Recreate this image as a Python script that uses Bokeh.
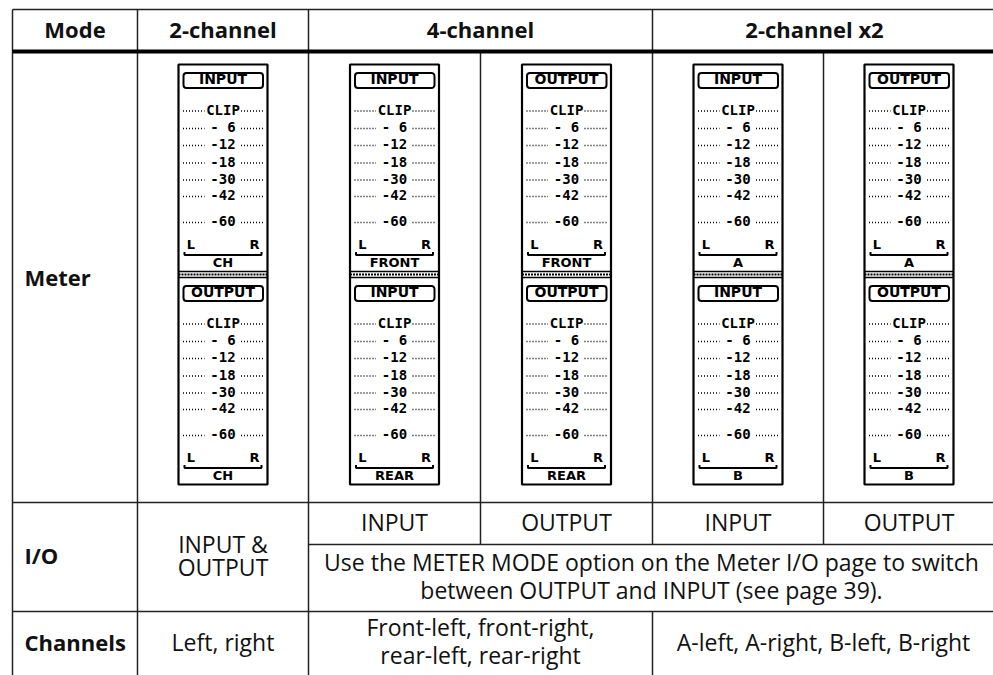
from bokeh.plotting import figure
from bokeh.models import Range1d
from bokeh.core.properties import value
from bokeh.embed import file_html
from bokeh.resources import INLINE

# ---------------- data ----------------
header_labels = ["Mode", "2-channel", "4-channel", "2-channel x2"]
row_labels = ["Meter", "I/O", "Channels"]
meter_scale_labels = ["CLIP", "- 6", "-12", "-18", "-30", "-42", "-60"]
meter_upper_titles = ["INPUT", "INPUT", "OUTPUT", "INPUT", "OUTPUT"]
meter_upper_groups = ["CH", "FRONT", "FRONT", "A", "A"]
meter_lower_titles = ["OUTPUT", "INPUT", "OUTPUT", "INPUT", "OUTPUT"]
meter_lower_groups = ["CH", "REAR", "REAR", "B", "B"]
meter_lr_labels = ["L", "R"]
io_two_channel = ["INPUT &", "OUTPUT"]
io_sub_labels = ["INPUT", "OUTPUT", "INPUT", "OUTPUT"]
io_note = ["Use the METER MODE option on the Meter I/O page to switch",
           "between OUTPUT and INPUT (see page 39)."]
channels_two = ["Left, right"]
channels_four = ["Front-left, front-right,", "rear-left, rear-right"]
channels_x2 = ["A-left, A-right, B-left, B-right"]

# ---------------- layout ----------------
col_edges = [12, 137, 308, 480, 652, 823, 994]
y_top, y_head, y_meter, y_split, y_io, y_bot = 9, 51, 502, 544, 611, 675
meter_w = 89
section_tops = [64, 277]
section_h = 207
scale_offsets = [46.5, 64, 81, 98.5, 115.5, 132, 158]

W, H = 993, 675
p = figure(width=W, height=H, x_range=Range1d(0, W), y_range=Range1d(H, 0),
           output_backend="svg", toolbar_location=None, min_border=0)
p.axis.visible = False
p.grid.visible = False
p.outline_line_color = None
p.background_fill_color = "white"
p.border_fill_color = "white"

INK = "#111111"
LINE = "#222222"

# ---------------- table lines ----------------
x0s, y0s, x1s, y1s = [], [], [], []
def seg(a, b, c, d):
    x0s.append(a); y0s.append(b); x1s.append(c); y1s.append(d)

for x in (col_edges[0], col_edges[1], col_edges[2], col_edges[6]):
    seg(x, y_top, x, y_bot)
seg(col_edges[4], y_top, col_edges[4], y_split)
seg(col_edges[4], y_io, col_edges[4], y_bot)
seg(col_edges[3], y_head, col_edges[3], y_split)
seg(col_edges[5], y_head, col_edges[5], y_split)
seg(col_edges[0], y_top, col_edges[6], y_top)
seg(col_edges[0], y_meter, col_edges[6], y_meter)
seg(col_edges[2], y_split, col_edges[6], y_split)
seg(col_edges[0], y_io, col_edges[6], y_io)
p.segment(x0=x0s, y0=y0s, x1=x1s, y1=y1s, line_color=LINE, line_width=1.5)
p.segment(x0=[col_edges[0]], y0=[y_head], x1=[col_edges[6]], y1=[y_head],
          line_color="black", line_width=4)

# ---------------- text helper (y = visual centre of capitals) ----------------
def text(xs, ys, txt, size, bold=False, align="center", font="Open Sans", color=INK):
    adj = [y - 0.09 * size for y in ys]
    p.text(x=xs, y=adj, text=txt, text_font=value(font), text_font_size=f"{size}px",
           text_font_style="bold" if bold else "normal", text_align=align,
           text_baseline="alphabetic", text_color=color)

hx = [(col_edges[0] + col_edges[1]) / 2, (col_edges[1] + col_edges[2]) / 2,
      (col_edges[2] + col_edges[4]) / 2, (col_edges[4] + col_edges[6]) / 2 - 9]
text(hx, [30] * 4, header_labels, 22, bold=True)

row_label_y = [(y_head + y_meter) / 2 + 2, (y_meter + y_io) / 2, (y_io + y_bot) / 2]
text([24] * 3, row_label_y, row_labels, 22, bold=True, align="left")

c2 = (col_edges[1] + col_edges[2]) / 2
io_mid = (y_meter + y_io) / 2
text([c2, c2], [io_mid - 10.5, io_mid + 12], io_two_channel, 23)

sub_cx = [(col_edges[i] + col_edges[i + 1]) / 2 for i in range(2, 6)]
text(sub_cx, [(y_meter + y_split) / 2 + 0.5] * 4, io_sub_labels, 23)

note_cx = (col_edges[2] + col_edges[6]) / 2
note_mid = (y_split + y_io) / 2
text([note_cx, note_cx], [note_mid - 14, note_mid + 14], io_note, 23)

ch_mid = 643
text([c2], [ch_mid + 1], channels_two, 23)
c4 = (col_edges[2] + col_edges[4]) / 2
text([c4, c4], [ch_mid - 14, ch_mid + 14], channels_four, 23)
cx2 = (col_edges[4] + col_edges[6]) / 2
text([cx2], [ch_mid + 1], channels_x2, 23)

# ---------------- meters ----------------
meter_cx = [(col_edges[i] + col_edges[i + 1]) / 2 for i in range(1, 6)]

frame_l, frame_r, frame_t, frame_b = [], [], [], []
lab_l, lab_r, lab_t, lab_b = [], [], [], []
title_x, title_y, title_t = [], [], []
group_x, group_y, group_t = [], [], []
scale_x, scale_y, scale_t = [], [], []
lr_x, lr_y, lr_t = [], [], []
dot_xs, dot_ys = [], []
brk_xs, brk_ys = [], []
sep_xs, sep_ys = [], []
band_xs, band_ys = [], []

for i, cx in enumerate(meter_cx):
    bl = cx - meter_w / 2
    br = cx + meter_w / 2
    frame_l.append(bl); frame_r.append(br)
    frame_t.append(section_tops[0]); frame_b.append(section_tops[1] + section_h)
    sep_xs += [[bl, br], [bl, br]]
    sep_ys += [[section_tops[0] + section_h, section_tops[0] + section_h],
               [section_tops[1], section_tops[1]]]
    band_xs.append([bl, br]); band_ys.append([274, 274])
    titles = [meter_upper_titles[i], meter_lower_titles[i]]
    groups = [meter_upper_groups[i], meter_lower_groups[i]]
    for s, T in enumerate(section_tops):
        lab_l.append(bl + 5); lab_r.append(br - 4.5)
        lab_t.append(T + 8.5); lab_b.append(T + 23.5)
        title_x.append(cx); title_y.append(T + 16); title_t.append(titles[s])
        for k, off in enumerate(scale_offsets):
            scale_x.append(cx); scale_y.append(T + off); scale_t.append(meter_scale_labels[k])
            dot_xs += [[bl + 4.5, bl + 26], [bl + 62.5, bl + 85]]
            dot_ys += [[T + off, T + off], [T + off, T + off]]
        lr_x += [bl + 12.5, bl + 76]; lr_y += [T + 181] * 2; lr_t += meter_lr_labels
        brk_xs.append([bl + 6, bl + 6, br - 6, br - 6])
        brk_ys.append([T + 187.5, T + 190.5, T + 190.5, T + 187.5])
        group_x.append(cx); group_y.append(T + 199.5); group_t.append(groups[s])

p.quad(left=frame_l, right=frame_r, top=frame_t, bottom=frame_b,
       fill_color="white", line_color="black", line_width=2.2)
p.multi_line(xs=sep_xs, ys=sep_ys, line_color="black", line_width=1.3)
p.multi_line(xs=band_xs, ys=band_ys, line_color="black", line_width=2, line_dash="2 1")
p.quad(left=lab_l, right=lab_r, top=lab_t, bottom=lab_b, fill_color=None,
       line_color="black", line_width=2, border_radius=3)
p.multi_line(xs=dot_xs, ys=dot_ys, line_color="black", line_width=1.4, line_dash="1 2")
p.multi_line(xs=brk_xs, ys=brk_ys, line_color="black", line_width=2)

text(title_x, title_y, title_t, 14, bold=True, font="DejaVu Sans", color="black")
text(scale_x, scale_y, scale_t, 14, bold=True, font="DejaVu Sans Mono", color="black")
text(lr_x, lr_y, lr_t, 13, bold=True, font="DejaVu Sans", color="black")
text(group_x, group_y, group_t, 13, bold=True, font="DejaVu Sans", color="black")

open("out.html", "w").write(file_html(p, INLINE))
